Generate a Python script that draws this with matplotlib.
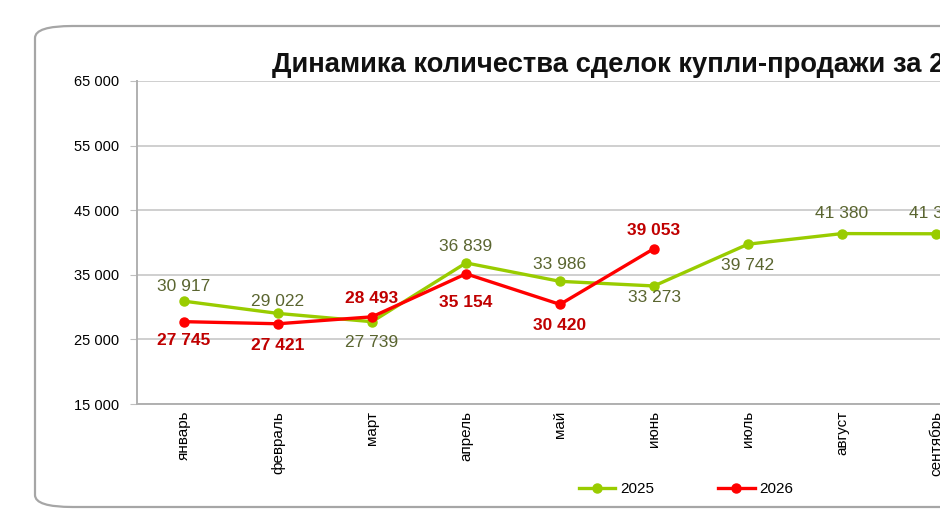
import matplotlib
matplotlib.use("Agg")
import matplotlib.pyplot as plt
from matplotlib.patches import FancyBboxPatch
from matplotlib.lines import Line2D

plt.rcParams['font.family'] = ['Liberation Sans', 'DejaVu Sans']

months = ["январь", "февраль", "март", "апрель", "май", "июнь",
          "июль", "август", "сентябрь", "октябрь", "ноябрь", "декабрь"]
values_2025 = [30917, 29022, 27739, 36839, 33986, 33273, 39742, 41380, 41350]
values_2026 = [27745, 27421, 28493, 35154, 30420, 39053]
yticks = [15000, 25000, 35000, 45000, 55000, 65000]
title = "Динамика количества сделок купли-продажи за 2025-2026 гг."

# label offsets in pixels (positive = above the point)
off_2025 = [15, 12, -21, 16, 17, -12, -21, 20, 20]
off_2026 = [-19, -22, 18, -29, -21, 18]

W, H = 940, 530
fig = plt.figure(figsize=(W / 100, H / 100), dpi=100)

frame = FancyBboxPatch((35 / W, (H - 507) / H), 1200 / W, (507 - 26) / H,
                       boxstyle="round,pad=0,rounding_size=0.04",
                       transform=fig.transFigure, facecolor="white",
                       edgecolor="#a6a6a6", linewidth=1.6, mutation_aspect=H / W,
                       zorder=-5)
fig.patches.append(frame)

step = 94.0
ax = fig.add_axes([137 / W, (H - 404) / H, 12 * step / W, (404 - 81) / H])
ax.set_zorder(2)
ax.set_facecolor("none")
ax.set_xlim(-0.5, 11.5)
ax.set_ylim(15000, 65000)

ax.set_yticks(yticks)
ax.set_yticklabels([f"{v:,}".replace(",", " ") for v in yticks], fontsize=10.5)
ax.set_xticks(range(len(months)))
ax.set_xticklabels(months, rotation=90, fontsize=11, va="top")
ax.tick_params(axis="x", length=0, pad=5)
ax.tick_params(axis="y", length=5, color="#bfbfbf", pad=8)
ax.grid(axis="y", color="#cfcfcf", linewidth=1.4)
ax.set_axisbelow(True)
for s in ["top", "right"]:
    ax.spines[s].set_visible(False)
for s in ["left", "bottom"]:
    ax.spines[s].set_color("#b0b0b0")
    ax.spines[s].set_linewidth(1.4)

c25, c26 = "#99cc00", "#ff0000"
x25 = list(range(len(values_2025)))
x26 = list(range(len(values_2026)))
ax.plot(x25, values_2025, color=c25, lw=2.4, marker="o", ms=6.5, zorder=3,
        solid_capstyle="round")
ax.plot(x26, values_2026, color=c26, lw=2.4, marker="o", ms=6.5, zorder=4,
        solid_capstyle="round")

def fmt(v):
    return f"{v:,}".replace(",", " ")

for x, v, o in zip(x25, values_2025, off_2025):
    ax.annotate(fmt(v), (x, v), xytext=(0, o * 0.72), textcoords="offset points",
                ha="center", va="center", fontsize=12.5, color="#5a6530",
                zorder=5, annotation_clip=False)
for x, v, o in zip(x26, values_2026, off_2026):
    ax.annotate(fmt(v), (x, v), xytext=(0, o * 0.72), textcoords="offset points",
                ha="center", va="center", fontsize=12.5, color="#c00000",
                fontweight="bold", zorder=5, annotation_clip=False)

fig.text(272 / W, 1 - 65 / H, title, fontsize=19.7, fontweight="bold",
         ha="left", va="center", color="#111111")

handles = [Line2D([], [], color=c25, lw=2.4, marker="o", ms=6.5),
           Line2D([], [], color=c26, lw=2.4, marker="o", ms=6.5)]
fig.legend(handles, ["2025", "2026"], loc="center",
           bbox_to_anchor=(686 / W, 1 - 489 / H), ncol=2, frameon=False,
           fontsize=11, handlelength=2.4, handletextpad=0.3,
           columnspacing=4.2)

fig.savefig("out.png", dpi=100)
